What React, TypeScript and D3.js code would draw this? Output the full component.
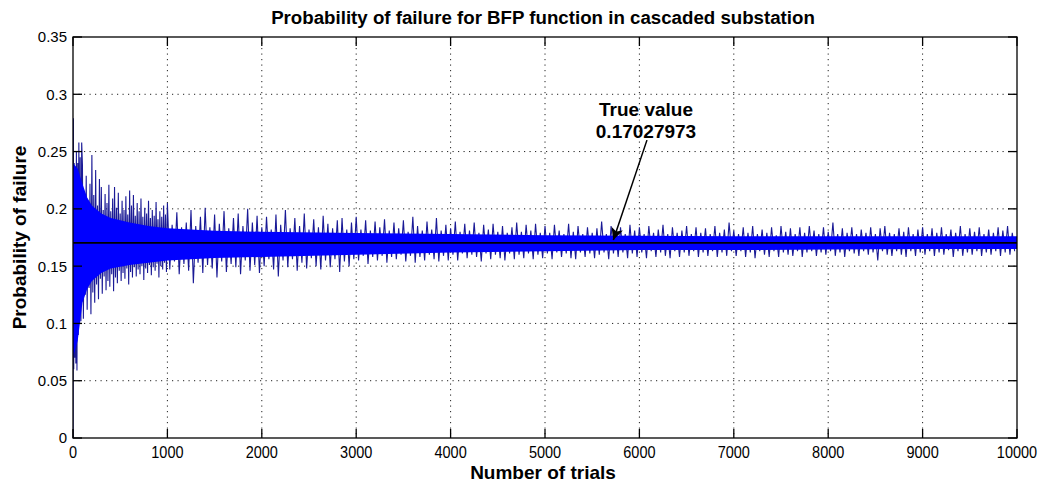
import * as d3 from "d3";

const WIDTH = 1043;
const HEIGHT = 484;
const plot = { left: 73, right: 1017, top: 37, bottom: 438 };

const xTicks = [0, 1000, 2000, 3000, 4000, 5000, 6000, 7000, 8000, 9000, 10000];
const yTicks = [0, 0.05, 0.1, 0.15, 0.2, 0.25, 0.3, 0.35];
const yTickLabels = ["0", "0.05", "0.1", "0.15", "0.2", "0.25", "0.3", "0.35"];

const trueValue = 0.17027973;

// first hundred trials, read point by point
const startTrials = [1, 4, 8, 12, 18, 24, 30, 36, 42, 50, 56, 62, 70, 76, 84, 92];
const startValues = [
  0, 0.279, 0.06, 0.24, 0.07, 0.235, 0.065, 0.25, 0.059, 0.24, 0.09, 0.258, 0.1, 0.245,
  0.102, 0.258,
];

// trials 100..980, peaks above the true value (every 20 trials)
const earlyUpper = [
  0.238, 0.215, 0.229, 0.205, 0.222, 0.247, 0.212, 0.234, 0.203, 0.226, 0.219, 0.199, 0.213,
  0.205, 0.221, 0.198, 0.209, 0.219, 0.201, 0.214, 0.196, 0.207, 0.199, 0.211, 0.195, 0.216,
  0.203, 0.212, 0.194, 0.205, 0.198, 0.209, 0.193, 0.201, 0.196, 0.207, 0.192, 0.199, 0.194,
  0.206, 0.191, 0.198, 0.193, 0.203, 0.195,
];
// trials 110..990, dips below the true value
const earlyLower = [
  0.104, 0.125, 0.112, 0.131, 0.108, 0.127, 0.118, 0.134, 0.121, 0.139, 0.126, 0.141, 0.129,
  0.137, 0.132, 0.143, 0.128, 0.14, 0.135, 0.146, 0.137, 0.144, 0.139, 0.148, 0.134, 0.145,
  0.14, 0.149, 0.141, 0.147, 0.143, 0.15, 0.138, 0.148, 0.144, 0.151, 0.142, 0.149, 0.146,
  0.152, 0.14, 0.15, 0.147, 0.153, 0.145,
];

// trials 1000..9950, peaks (every 50 trials)
const lateUpper = [
  0.205, 0.186, 0.197, 0.184, 0.188, 0.199, 0.185, 0.193, 0.201, 0.184, 0.195, 0.187, 0.198, 0.183, 0.192, 0.196, 0.185, 0.2, 0.188, 0.194,
  0.184, 0.193, 0.182, 0.195, 0.186, 0.199, 0.183, 0.192, 0.185, 0.196, 0.182, 0.191, 0.184, 0.194, 0.187, 0.183, 0.19, 0.192, 0.182, 0.188,
  0.193, 0.182, 0.19, 0.181, 0.189, 0.184, 0.191, 0.181, 0.188, 0.183, 0.19, 0.18, 0.193, 0.185, 0.181, 0.189, 0.182, 0.192, 0.181, 0.186,
  0.183, 0.189, 0.18, 0.187, 0.181, 0.188, 0.179, 0.186, 0.182, 0.187, 0.18, 0.185, 0.179, 0.184, 0.188, 0.18, 0.186, 0.181, 0.187, 0.179,
  0.185, 0.179, 0.186, 0.181, 0.178, 0.187, 0.18, 0.185, 0.178, 0.184, 0.179, 0.183, 0.189, 0.178, 0.185, 0.18, 0.184, 0.178, 0.186, 0.181,
  0.184, 0.178, 0.185, 0.179, 0.182, 0.186, 0.178, 0.184, 0.179, 0.181, 0.185, 0.178, 0.184, 0.179, 0.183, 0.178, 0.185, 0.179, 0.182, 0.188,
  0.181, 0.178, 0.184, 0.179, 0.185, 0.178, 0.182, 0.179, 0.184, 0.177, 0.185, 0.18, 0.183, 0.178, 0.184, 0.179, 0.185, 0.181, 0.178, 0.184,
  0.18, 0.188, 0.178, 0.183, 0.179, 0.184, 0.178, 0.182, 0.179, 0.184, 0.178, 0.183, 0.185, 0.179, 0.178, 0.183, 0.18, 0.184, 0.178, 0.182,
  0.184, 0.178, 0.183, 0.179, 0.184, 0.178, 0.182, 0.179, 0.185, 0.178, 0.183, 0.18, 0.184, 0.178, 0.182, 0.179, 0.184, 0.181, 0.185, 0.179,
];
// trials 1025..9975, dips
const lateLower = [
  0.147, 0.154, 0.143, 0.152, 0.146, 0.135, 0.153, 0.144, 0.151, 0.148, 0.14, 0.154, 0.145, 0.152, 0.149, 0.143, 0.155, 0.146, 0.151, 0.144,
  0.15, 0.156, 0.147, 0.141, 0.155, 0.149, 0.156, 0.146, 0.153, 0.148, 0.157, 0.15, 0.147, 0.155, 0.149, 0.156, 0.145, 0.154, 0.15, 0.156,
  0.155, 0.159, 0.152, 0.158, 0.155, 0.159, 0.153, 0.158, 0.156, 0.16, 0.154, 0.159, 0.153, 0.158, 0.155, 0.16, 0.156, 0.154, 0.159, 0.155,
  0.16, 0.155, 0.161, 0.157, 0.16, 0.158, 0.154, 0.161, 0.156, 0.16, 0.157, 0.155, 0.161, 0.156, 0.16, 0.157, 0.161, 0.156, 0.16, 0.157,
  0.161, 0.156, 0.162, 0.158, 0.161, 0.157, 0.156, 0.162, 0.158, 0.161, 0.157, 0.16, 0.162, 0.156, 0.161, 0.158, 0.162, 0.157, 0.161, 0.158,
  0.162, 0.157, 0.163, 0.158, 0.162, 0.159, 0.157, 0.163, 0.158, 0.162, 0.159, 0.163, 0.158, 0.162, 0.159, 0.163, 0.158, 0.162, 0.159, 0.163,
  0.159, 0.163, 0.158, 0.162, 0.157, 0.163, 0.16, 0.158, 0.163, 0.158, 0.162, 0.16, 0.159, 0.163, 0.158, 0.162, 0.163, 0.159, 0.162, 0.16,
  0.163, 0.159, 0.162, 0.158, 0.163, 0.161, 0.159, 0.163, 0.16, 0.162, 0.155, 0.163, 0.16, 0.159, 0.163, 0.16, 0.158, 0.163, 0.159, 0.162,
  0.16, 0.163, 0.159, 0.162, 0.16, 0.164, 0.158, 0.163, 0.159, 0.162, 0.16, 0.163, 0.159, 0.162, 0.16, 0.163, 0.159, 0.162, 0.16, 0.163,
];

// dense core of the trace (solid blue band)
const coreTrials = [0, 50, 100, 150, 200, 300, 400, 600, 800, 1000, 1500, 2000, 3000, 4000, 5000, 6000, 7000, 8000, 9000, 10000];
const coreUpper = [0.24, 0.235, 0.222, 0.21, 0.203, 0.196, 0.192, 0.188, 0.185, 0.183, 0.181, 0.18, 0.179, 0.178, 0.177, 0.1765, 0.176, 0.176, 0.176, 0.176];
const coreLower = [0.07, 0.085, 0.118, 0.13, 0.137, 0.144, 0.148, 0.151, 0.153, 0.155, 0.157, 0.158, 0.16, 0.162, 0.163, 0.164, 0.164, 0.1645, 0.165, 0.165];

// annotation arrow, in data units
const arrowFrom = [6080, 0.26];
const arrowTo = [5724, 0.1728];

const FONT = "'Liberation Sans', Arial, Helvetica, sans-serif";

export default function App() {
  const x = d3.scaleLinear().domain([0, 10000]).range([plot.left, plot.right]);
  const y = d3.scaleLinear().domain([0, 0.35]).range([plot.bottom, plot.top]);

  const series: [number, number][] = [];
  startTrials.forEach((t, i) => series.push([t, startValues[i]]));
  earlyUpper.forEach((v, i) => {
    series.push([100 + 20 * i, v]);
    series.push([110 + 20 * i, earlyLower[i]]);
  });
  lateUpper.forEach((v, i) => {
    series.push([1000 + 50 * i, v]);
    series.push([1025 + 50 * i, lateLower[i]]);
  });

  const line = d3
    .line<[number, number]>()
    .x((d) => x(d[0]))
    .y((d) => y(d[1]));

  const core = d3
    .area<number>()
    .x((t) => x(t))
    .y0((_, i) => y(coreLower[i]))
    .y1((_, i) => y(coreUpper[i]));

  const tick = 9;

  return (
    <svg
      width={WIDTH}
      height={HEIGHT}
      viewBox={`0 0 ${WIDTH} ${HEIGHT}`}
      style={{ position: "absolute", left: 0, top: 0, background: "#fff" }}
      fontFamily={FONT}
    >
      <defs>
        <clipPath id="plot-clip">
          <rect x={plot.left} y={plot.top} width={plot.right - plot.left} height={plot.bottom - plot.top} />
        </clipPath>
        <marker
          id="arrowhead"
          viewBox="0 0 10 10"
          refX={10}
          refY={5}
          markerWidth={15}
          markerHeight={12}
          markerUnits="userSpaceOnUse"
          orient="auto"
        >
          <path d="M0,0 L10,5 L0,10 L2.5,5 z" fill="#000" />
        </marker>
      </defs>

      {/* grid */}
      <g stroke="#222" strokeWidth={1} strokeDasharray="1.2,4.3">
        {xTicks.slice(1, -1).map((t) => (
          <line key={`gx${t}`} x1={x(t)} x2={x(t)} y1={plot.top} y2={plot.bottom} />
        ))}
        {yTicks.slice(1, -1).map((t) => (
          <line key={`gy${t}`} x1={plot.left} x2={plot.right} y1={y(t)} y2={y(t)} />
        ))}
      </g>

      <g clipPath="url(#plot-clip)">
        <path d={line(series) ?? ""} fill="none" stroke="#1a1a96" strokeWidth={1.1} />
        <path d={core(coreTrials) ?? ""} fill="#0000ff" />
        <line
          x1={x(0)}
          x2={x(10000)}
          y1={y(trueValue)}
          y2={y(trueValue)}
          stroke="#000"
          strokeWidth={1.6}
        />
      </g>

      {/* box and inward ticks */}
      <rect
        x={plot.left}
        y={plot.top}
        width={plot.right - plot.left}
        height={plot.bottom - plot.top}
        fill="none"
        stroke="#000"
        strokeWidth={1.3}
      />
      <g stroke="#000" strokeWidth={1.3}>
        {xTicks.map((t) => (
          <g key={`tx${t}`}>
            <line x1={x(t)} x2={x(t)} y1={plot.bottom} y2={plot.bottom - tick} />
            <line x1={x(t)} x2={x(t)} y1={plot.top} y2={plot.top + tick} />
          </g>
        ))}
        {yTicks.map((t) => (
          <g key={`ty${t}`}>
            <line x1={plot.left} x2={plot.left + tick} y1={y(t)} y2={y(t)} />
            <line x1={plot.right} x2={plot.right - tick} y1={y(t)} y2={y(t)} />
          </g>
        ))}
      </g>

      {/* tick labels */}
      <g fontSize={14.5} fill="#000" textAnchor="middle">
        {xTicks.map((t) => (
          <text key={`lx${t}`} transform={`translate(${x(t)},458) scale(1,1.15)`}>
            {t}
          </text>
        ))}
      </g>
      <g fontSize={15} fill="#000" textAnchor="end">
        {yTicks.map((t, i) => (
          <text key={`ly${t}`} x={67} y={y(t)} dy="0.36em">
            {yTickLabels[i]}
          </text>
        ))}
      </g>

      {/* titles */}
      <text x={543} y={24} textAnchor="middle" fontWeight="bold" fontSize={18.7}>
        Probability of failure for BFP function in cascaded substation
      </text>
      <text x={543} y={479} textAnchor="middle" fontWeight="bold" fontSize={19}>
        Number of trials
      </text>
      <text
        transform={`translate(26,${(plot.top + plot.bottom) / 2}) rotate(-90)`}
        textAnchor="middle"
        fontWeight="bold"
        fontSize={19}
      >
        Probability of failure
      </text>

      {/* annotation */}
      <text x={646} y={116} textAnchor="middle" fontWeight="bold" fontSize={19}>
        True value
      </text>
      <text x={646} y={137.5} textAnchor="middle" fontWeight="bold" fontSize={19}>
        0.17027973
      </text>
      <line
        x1={x(arrowFrom[0])}
        y1={y(arrowFrom[1])}
        x2={x(arrowTo[0])}
        y2={y(arrowTo[1])}
        stroke="#000"
        strokeWidth={1.5}
        markerEnd="url(#arrowhead)"
      />
    </svg>
  );
}
